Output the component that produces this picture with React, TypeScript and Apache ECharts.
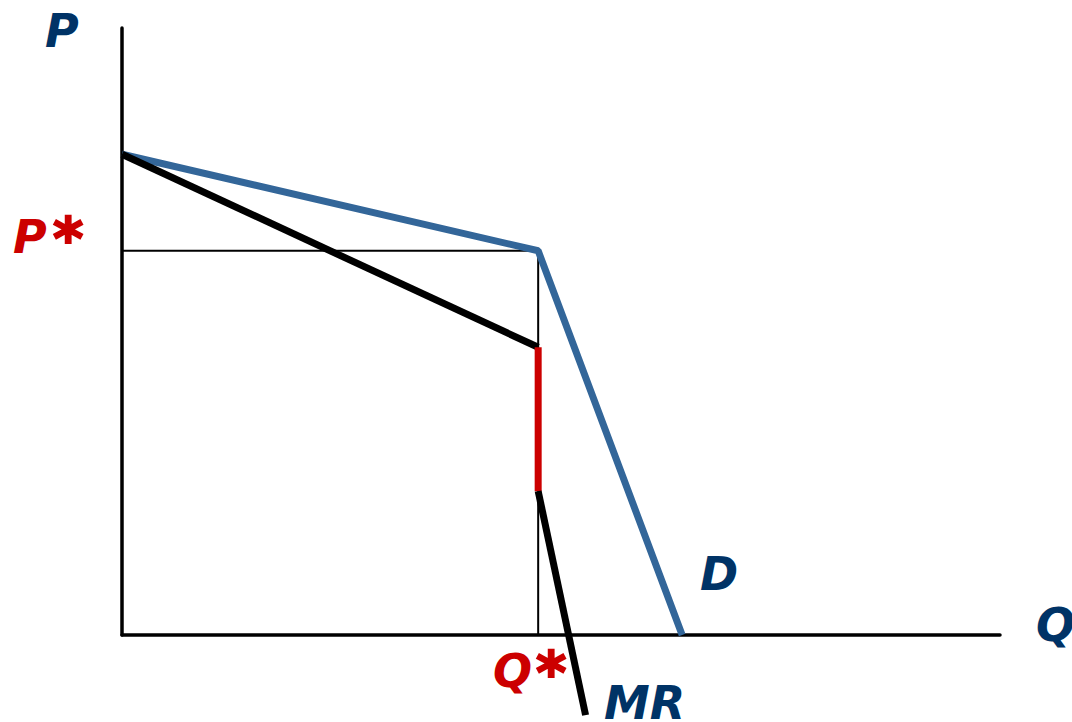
import React, { useEffect, useRef } from "react";
import * as echarts from "echarts";

// Demand curve (kinked): [Q, P]
const demandPoints: [number, number][] = [
  [0, 7.92],
  [4.74, 6.33],
  [6.38, 0],
];
// Marginal revenue, upper segment
const mrUpper: [number, number][] = [
  [0, 7.92],
  [4.74, 4.74],
];
// Marginal revenue gap (discontinuity)
const mrGap: [number, number][] = [
  [4.74, 4.74],
  [4.74, 2.37],
];
// Marginal revenue, lower segment
const mrLower: [number, number][] = [
  [4.74, 2.37],
  [5.28, -1.32],
];
// Guides to P* and Q*
const pStarGuide: [number, number][] = [
  [0, 6.33],
  [4.74, 6.33],
];
const qStarGuide: [number, number][] = [
  [4.74, 6.33],
  [4.74, 0],
];

const BLUE_TEXT = "#003366";
const RED = "#cc0000";
const FONT = "DejaVu Sans";

export default function App() {
  const ref = useRef<HTMLDivElement>(null);
  useEffect(() => {
    document.body.style.margin = "0";
    const chart = echarts.init(ref.current!, null, { renderer: "svg" });
    const textStyle = (color: string, size = 46) => ({
      fontFamily: FONT,
      fontWeight: "bold" as const,
      fontStyle: "italic" as const,
      fontSize: size,
      fill: color,
      verticalAlign: "top" as const,
    });
    const starStyle = (color: string) => ({
      ...textStyle(color, 58),
      stroke: color,
      lineWidth: 2,
    });
    chart.setOption({
      animation: false,
      backgroundColor: "#ffffff",
      grid: { left: 122, top: 28, width: 878, height: 607 },
      xAxis: {
        type: "value",
        min: 0,
        max: 10,
        axisLine: { show: true, lineStyle: { color: "#000", width: 3.5 } },
        axisTick: { show: false },
        axisLabel: { show: false },
        splitLine: { show: false },
      },
      yAxis: {
        type: "value",
        min: 0,
        max: 10,
        axisLine: { show: true, lineStyle: { color: "#000", width: 3.5 } },
        axisTick: { show: false },
        axisLabel: { show: false },
        splitLine: { show: false },
      },
      series: [
        {
          type: "line",
          data: pStarGuide,
          symbol: "none",
          lineStyle: { color: "#000", width: 2 },
        },
        {
          type: "line",
          data: qStarGuide,
          symbol: "none",
          lineStyle: { color: "#000", width: 2 },
        },
        {
          type: "line",
          data: demandPoints,
          symbol: "none",
          lineStyle: { color: "#336699", width: 7 },
        },
        {
          type: "line",
          data: mrUpper,
          symbol: "none",
          lineStyle: { color: "#000", width: 7 },
        },
        {
          type: "line",
          data: mrGap,
          symbol: "none",
          lineStyle: { color: RED, width: 7 },
        },
        {
          type: "line",
          data: mrLower,
          symbol: "none",
          clip: false,
          lineStyle: { color: "#000", width: 7 },
        },
      ],
      graphic: [
        { type: "text", left: 45, top: 8, style: { text: "P", ...textStyle(BLUE_TEXT) } },
        { type: "text", left: 13, top: 214, style: { text: "P", ...textStyle(RED) } },
        { type: "text", left: 52, top: 209, style: { text: "*", ...starStyle(RED) } },
        { type: "text", left: 493, top: 648, style: { text: "Q", ...textStyle(RED) } },
        { type: "text", left: 535, top: 643, style: { text: "*", ...starStyle(RED) } },
        { type: "text", left: 700, top: 551, style: { text: "D", ...textStyle(BLUE_TEXT) } },
        { type: "text", left: 604, top: 680, style: { text: "MR", ...textStyle(BLUE_TEXT) } },
        { type: "text", left: 1036, top: 602, style: { text: "Q", ...textStyle(BLUE_TEXT) } },
      ],
    });
    return () => chart.dispose();
  }, []);
  return <div ref={ref} style={{ width: 1072, height: 722 }} />;
}
